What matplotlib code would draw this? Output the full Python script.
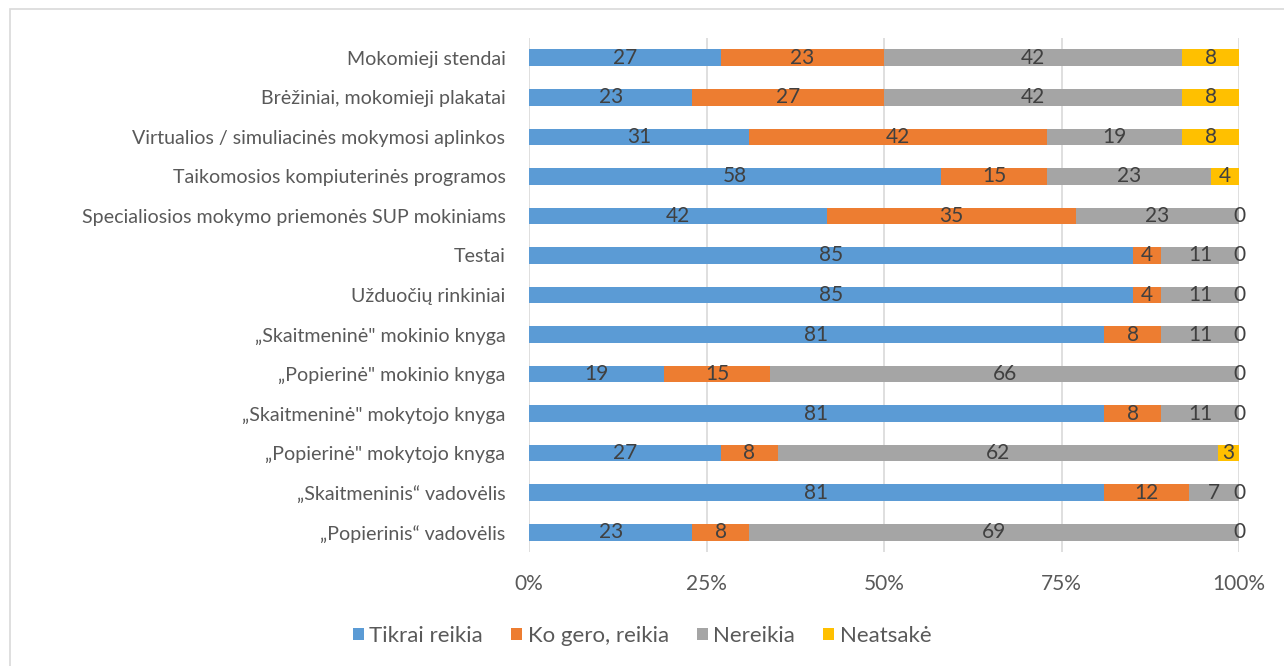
import matplotlib.pyplot as plt
from matplotlib.patches import Rectangle
from matplotlib.transforms import ScaledTranslation

plt.rcParams['font.family'] = ['Lato', 'DejaVu Sans']

# categories, top to bottom as in the picture
categories = [
    "Mokomieji stendai",
    "Brėžiniai, mokomieji plakatai",
    "Virtualios / simuliacinės mokymosi aplinkos",
    "Taikomosios kompiuterinės programos",
    "Specialiosios mokymo priemonės SUP mokiniams",
    "Testai",
    "Užduočių rinkiniai",
    "„Skaitmeninė\" mokinio knyga",
    "„Popierinė\" mokinio knyga",
    "„Skaitmeninė\" mokytojo knyga",
    "„Popierinė\" mokytojo knyga",
    "„Skaitmeninis“ vadovėlis",
    "„Popierinis“ vadovėlis",
]
tikrai = [27, 23, 31, 58, 42, 85, 85, 81, 19, 81, 27, 81, 23]
ko_gero = [23, 27, 42, 15, 35, 4, 4, 8, 15, 8, 8, 12, 8]
nereikia = [42, 42, 19, 23, 23, 11, 11, 11, 66, 11, 62, 7, 69]
neatsake = [8, 8, 8, 4, 0, 0, 0, 0, 0, 0, 3, 0, 0]

series = [
    ("Tikrai reikia", tikrai, "#5B9BD5"),
    ("Ko gero, reikia", ko_gero, "#ED7D31"),
    ("Nereikia", nereikia, "#A5A5A5"),
    ("Neatsakė", neatsake, "#FFC000"),
]

fig = plt.figure(figsize=(12.84, 6.66), dpi=100)
ax = fig.add_axes([529 / 1284, 1 - 552 / 666, 710 / 1284, 514 / 666])

# chart border like the excel frame
fig.patches.append(Rectangle((10 / 1284, -0.1), 1.1, 1 - 9 / 666 + 0.1,
                             transform=fig.transFigure, fill=False,
                             edgecolor="#d9d9d9", linewidth=1.2))

shift = ScaledTranslation(0, -2 / 100, fig.dpi_scale_trans)
y = list(range(len(categories)))[::-1]
left = [0] * len(categories)
for name, vals, col in series:
    bars = ax.barh(y, vals, left=left, height=0.42, color=col, label=name, zorder=3)
    txt = ax.bar_label(bars, labels=[str(v) for v in vals], label_type="center",
                       color="#404040", fontsize=15, zorder=4)
    for t in txt:
        t.set_transform(t.get_transform() + shift)
    left = [a + b for a, b in zip(left, vals)]

ax.set_xlim(0, 100)
ax.set_ylim(-0.5, len(categories) - 0.5)
ax.set_yticks(y)
ax.set_yticklabels(categories, fontsize=14.1, color="#595959")
ax.set_xticks([0, 25, 50, 75, 100])
ax.set_xticklabels(["0%", "25%", "50%", "75%", "100%"], fontsize=15, color="#595959")
ax.tick_params(length=0, pad=17)
ax.tick_params(axis="x", pad=16)
ax.grid(axis="x", color="#d9d9d9", linewidth=1.2, zorder=0)
for s in ax.spines.values():
    s.set_visible(False)

fig.legend(loc="center", bbox_to_anchor=(0.5, 1 - 636 / 666), ncol=4, frameon=False,
           fontsize=16, labelcolor="#595959", handlelength=0.5, handleheight=0.5,
           handletextpad=0.25, columnspacing=1.25)

fig.savefig("out.png", dpi=100)
